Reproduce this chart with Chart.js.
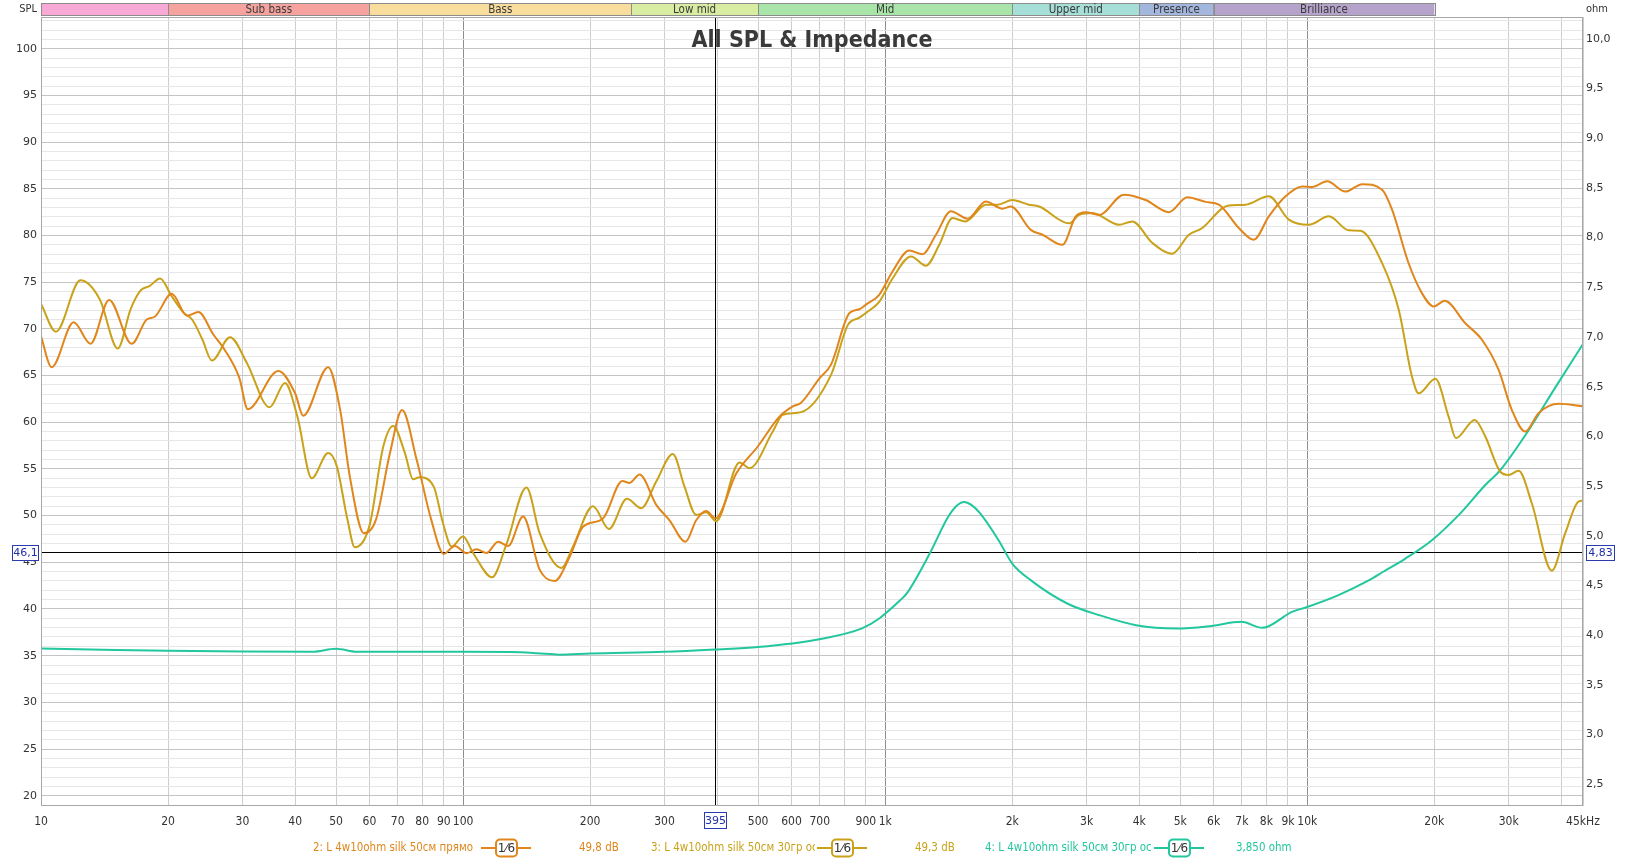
<!DOCTYPE html>
<html><head><meta charset="utf-8">
<script src="https://cdn.jsdelivr.net/npm/chart.js@4.4.1/dist/chart.umd.min.js"></script>
<style>html,body{margin:0;padding:0;background:#fff;overflow:hidden}canvas{display:block}</style>
</head><body>
<canvas id="c" width="1635" height="859"></canvas>
<script>
// ---------- DATA ----------
const spl2Freq = [10,10.6,11.95,13.1,14.5,16.4,17.8,18.6,20.4,22.2,23.6,25.6,27.2,29.5,30.9,36.5,40,41.8,47.9,51.1,53.9,58.2,62.2,67.1,71.7,77.6,84,90,95.6,101.9,107.6,113.6,121,127.9,138.7,151.9,164.8,178.9,192.3,214.5,238.4,248,261.9,286.8,308.4,336.5,356.6,376.6,396.3,443.7,499,561.6,604,632,698.6,744.6,822.8,868.6,900.5,968,1041,1140,1226,1319,1431,1567,1732,1896,1984,2213,2359,2630,2828,2987,3211,3680,4141,4702,5196,5742,6175,6884,7470,8108,8880,9723,10270,11140,12310,13490,15040,15880,17390,18700,19930,21160,23680,25930,28400,30530,32840,35310,39380,45000];
const spl2Db = [69.2,65.9,70.7,68.4,73.1,68.4,71.0,71.3,73.75,71.4,71.8,69.4,67.8,64.75,61.4,65.5,63.1,60.7,65.9,61.4,54.2,48.1,49.6,56.7,61.3,56.0,49.6,45.9,46.75,45.97,46.4,46.0,47.2,46.75,49.9,44.2,43.0,45.6,48.8,49.7,53.7,53.5,54.4,51.15,49.5,47.2,49.5,50.5,49.7,54.5,57.4,60.6,61.7,62.1,64.7,66.2,71.7,72.1,72.6,73.65,76.15,78.4,78.0,80.08,82.6,81.8,83.65,82.87,83.1,80.6,80.08,79.0,82.05,82.5,82.2,84.37,83.8,82.5,84.1,83.6,83.3,80.8,79.55,82.05,84.2,85.26,85.2,85.8,84.7,85.5,84.9,82.76,77.0,73.8,72.4,73.0,70.6,68.83,65.6,61.3,59.0,60.97,61.97,61.7];

const spl3Freq = [10,10.85,12.4,13.8,15.2,16.3,17.2,18.1,19.15,20.4,21.8,22.8,24.1,25.4,28.05,30.7,34.8,37.85,40.5,43.8,47.9,50.2,53.2,55.4,60,64.7,68.3,72.8,76.1,78.8,85.2,89.6,93.9,100,105.6,117.1,126.6,141.3,151.9,171,182.2,203.1,221.6,244.4,264.3,286.8,314,334.6,356.6,376.6,397.7,451.8,477,541.6,571.9,632,744.6,815.4,868.6,900,968,1041,1151,1249,1343,1444,1548,1732,1845,2002,2190,2316,2727,2880,3097,3581,3850,4295,4787,5243,5639,6289,6521,7140,8108,9043,10080,11250,12540,13360,15040,16470,17700,18360,20110,21620,22500,24920,26410,28660,29990,31670,34050,37960,40830,43900,45000];
const spl3Db = [72.7,69.7,75.2,73.1,67.9,72.1,74.1,74.6,75.4,73.5,71.7,71.0,68.9,66.6,69.1,66.4,61.6,64.2,60.6,54.0,56.7,55.3,49.6,46.6,48.9,57.4,59.6,56.7,53.9,54.1,53.1,49.2,46.7,47.75,46.0,43.4,46.9,53.0,48.1,44.4,46.7,51.0,48.57,51.8,50.8,53.65,56.6,53.1,50.08,50.36,49.4,55.7,55.08,59.0,60.8,61.08,65.1,70.4,71.2,71.7,72.9,75.4,77.76,76.76,79.0,81.87,81.5,83.3,83.3,83.8,83.3,83.1,81.3,82.2,82.4,81.15,81.5,79.2,78.05,80.08,80.8,82.9,83.2,83.3,84.2,81.7,81.15,82.05,80.55,80.5,77.04,72.04,64.9,63.1,64.65,60.6,58.3,60.25,58.47,54.7,54.36,54.8,51.3,44.1,48.1,51.5,51.6];

const impFreq = [10,15,20,30,44,50,56,100,130,150,169,200,300,395,500,693,881,968,1085,1125,1275,1410,1475,1538,1600,1679,1856,2000,2211,2700,3218,3930,4923,5862,6988,7820,9200,9917,11820,13980,15170,17080,19740,22830,26410,28660,33430,38670,45000];
const impOhm = [3.866,3.85,3.842,3.835,3.832,3.862,3.832,3.832,3.83,3.818,3.803,3.815,3.832,3.855,3.88,3.956,4.067,4.167,4.35,4.419,4.821,5.19,5.30,5.34,5.31,5.224,4.955,4.72,4.553,4.318,4.2,4.1,4.067,4.09,4.133,4.073,4.234,4.278,4.40,4.55,4.64,4.77,4.955,5.207,5.51,5.66,6.06,6.49,6.93];

const xTickValues = [10,20,30,40,50,60,70,80,90,100,200,300,400,500,600,700,800,900,1000,2000,3000,4000,5000,6000,7000,8000,9000,10000,20000,30000,40000,45000];
const xTickLabels = ['10','20','30','40','50','60','70','80','90','100','200','300','','500','600','700','','900','1k','2k','3k','4k','5k','6k','7k','8k','9k','10k','20k','30k','','45kHz'];
const splTickValues = [20,25,30,35,40,45,50,55,60,65,70,75,80,85,90,95,100];
const ohmTickValues = [2.5,3,3.5,4,4.5,5,5.5,6,6.5,7,7.5,8,8.5,9,9.5,10];

const bandNames = ['', 'Sub bass', 'Bass', 'Low mid', 'Mid', 'Upper mid', 'Presence', 'Brilliance'];
const bandEdges = [10, 20, 60, 250, 500, 2000, 4000, 6000, 20000];
const bandColors = ['#f9a9d6', '#f6a39f', '#f8dd9c', '#d8eca2', '#a9e4a9', '#a6ded8', '#a3b7de', '#b5a3cb'];

const seriesNames = ['2: L 4w10ohm silk 50см прямо', '3: L 4w10ohm silk 50см 30гр ось', '4: L 4w10ohm silk 50см 30гр ось'];
const seriesReadouts = ['49,8 dB', '49,3 dB', '3,850 ohm'];
const seriesColors = ['#e0861c', '#c9a21a', '#22c79d'];

const cursorFreq = 395, cursorDb = 46.1, cursorOhmLabel = '4,83', cursorDbLabel = '46,1', cursorFreqLabel = '395';
const titleText = 'All SPL & Impedance';

// ---------- CHART ----------
const COND = '"DejaVu Sans Condensed", "Liberation Sans Narrow", "DejaVu Sans", sans-serif';
const SANS = '"DejaVu Sans", Verdana, sans-serif';
const pts = (fs, vs) => fs.map((f, i) => ({x: f, y: vs[i]}));

const decor = {
  id: 'decor',
  beforeDatasetsDraw(chart) {
    const {ctx, chartArea: a, scales: {x, y}} = chart;
    ctx.save();
    ctx.strokeStyle = '#000'; ctx.lineWidth = 1;
    const cx = Math.round(x.getPixelForValue(cursorFreq)) + 0.5;
    const cy = Math.round(y.getPixelForValue(cursorDb)) + 0.5;
    ctx.beginPath();
    ctx.moveTo(cx, a.top); ctx.lineTo(cx, a.bottom);
    ctx.moveTo(a.left, cy); ctx.lineTo(a.right, cy);
    ctx.stroke();
    ctx.restore();
  },
  afterDraw(chart) {
    const {ctx, chartArea: a, scales: {x, y}} = chart;
    ctx.save();
    // frame
    ctx.strokeStyle = '#a8a8a8'; ctx.lineWidth = 1;
    ctx.strokeRect(Math.round(a.left) + 0.5, Math.round(a.top) + 0.5, Math.round(a.right - a.left) - 1, Math.round(a.bottom - a.top) - 1);
    // title
    ctx.fillStyle = '#3a3a3a';
    ctx.font = 'bold 23px ' + COND;
    ctx.textAlign = 'center'; ctx.textBaseline = 'middle';
    ctx.fillText(titleText, (a.left + a.right) / 2, 41);
    // band bar
    const bt = 3, bh = 12;
    for (let i = 0; i < bandNames.length; i++) {
      const x0 = x.getPixelForValue(bandEdges[i]), x1 = x.getPixelForValue(bandEdges[i + 1]);
      ctx.fillStyle = bandColors[i];
      ctx.fillRect(x0, bt, x1 - x0, bh);
      ctx.strokeStyle = '#8c8c8c';
      ctx.strokeRect(Math.round(x0) + 0.5, bt + 0.5, Math.round(x1 - x0), bh);
      if (bandNames[i]) {
        ctx.fillStyle = '#3a3a3a';
        ctx.font = '11.5px ' + COND;
        ctx.fillText(bandNames[i], (x0 + x1) / 2, bt + bh / 2 + 1);
      }
    }
    ctx.fillStyle = '#333';
    ctx.font = '11px ' + COND;
    ctx.textAlign = 'right';
    ctx.fillText('SPL', 37, 9);
    ctx.textAlign = 'left';
    ctx.fillText('ohm', 1586, 9);
    // cursor boxes
    const cx = x.getPixelForValue(cursorFreq), cy = Math.round(y.getPixelForValue(cursorDb)) + 0.5;
    function box(t, mx, my, w, h) {
      ctx.fillStyle = '#fff';
      ctx.fillRect(mx - w / 2, my - h / 2, w, h);
      ctx.strokeStyle = '#2b3bb0'; ctx.lineWidth = 1;
      ctx.strokeRect(Math.round(mx - w / 2) + 0.5, Math.round(my - h / 2) + 0.5, w, h);
      ctx.fillStyle = '#1f2fa8';
      ctx.font = '11px ' + SANS;
      ctx.textAlign = 'center'; ctx.textBaseline = 'middle';
      ctx.fillText(t, mx + 0.5, my + 1);
    }
    box(cursorDbLabel, 25, cy, 26, 15);
    box(cursorOhmLabel, 1600, cy, 28, 15);
    box(cursorFreqLabel, cx, 820, 22, 16);
    // legend: fit font so first label spans its original width
    ctx.font = '12px ' + COND;
    const legSize = Math.min(12, 12 * 160 / ctx.measureText(seriesNames[0]).width);
    const LF = legSize.toFixed(2) + 'px ' + COND;
    const ly = 848;
    const items = [
      {tx: 313, sx: 481, vx: 579},
      {tx: 651, sx: 817, vx: 915},
      {tx: 985, sx: 1154, vx: 1236}
    ];
    items.forEach((it, i) => {
      const col = seriesColors[i];
      ctx.font = LF;
      ctx.textAlign = 'left'; ctx.textBaseline = 'middle';
      ctx.save();
      ctx.beginPath(); ctx.rect(it.tx, ly - 10, it.sx - it.tx - 2, 20); ctx.clip();
      ctx.fillStyle = col;
      ctx.fillText(seriesNames[i], it.tx, ly);
      ctx.restore();
      // symbol
      ctx.strokeStyle = col; ctx.lineWidth = 2;
      ctx.beginPath();
      ctx.moveTo(it.sx, ly); ctx.lineTo(it.sx + 15, ly);
      ctx.moveTo(it.sx + 36, ly); ctx.lineTo(it.sx + 50, ly);
      ctx.stroke();
      ctx.beginPath();
      if (ctx.roundRect) ctx.roundRect(it.sx + 15, ly - 8.5, 21, 17, 4); else ctx.rect(it.sx + 15, ly - 8.5, 21, 17);
      ctx.fillStyle = '#fff'; ctx.fill(); ctx.stroke();
      ctx.fillStyle = '#333';
      ctx.font = '12px ' + SANS;
      ctx.textAlign = 'center';
      ctx.fillText('1\u20446', it.sx + 25.5, ly + 0.5);
      ctx.fillStyle = col;
      ctx.font = LF;
      ctx.textAlign = 'left';
      ctx.fillText(seriesReadouts[i], it.vx, ly);
    });
    ctx.restore();
  }
};

new Chart(document.getElementById('c'), {
  type: 'line',
  data: {
    datasets: [
      {label: seriesNames[0], data: pts(spl2Freq, spl2Db), borderColor: seriesColors[0], borderWidth: 2, pointRadius: 0, cubicInterpolationMode: 'monotone', yAxisID: 'y'},
      {label: seriesNames[1], data: pts(spl3Freq, spl3Db), borderColor: seriesColors[1], borderWidth: 2, pointRadius: 0, cubicInterpolationMode: 'monotone', yAxisID: 'y'},
      {label: seriesNames[2], data: pts(impFreq, impOhm), borderColor: seriesColors[2], borderWidth: 2, pointRadius: 0, cubicInterpolationMode: 'monotone', yAxisID: 'y2'}
    ]
  },
  options: {
    responsive: false, animation: false, devicePixelRatio: 1,
    layout: {padding: {top: 17, left: 0, right: 0, bottom: 0}},
    plugins: {legend: {display: false}, tooltip: {enabled: false}, title: {display: false}},
    scales: {
      x: {
        type: 'logarithmic', min: 10, max: 45000,
        afterBuildTicks: s => { s.ticks = xTickValues.map(v => ({value: v})); },
        afterFit: s => { s.height = 53; },
        ticks: {autoSkip: false, maxRotation: 0, minRotation: 0, padding: 9, color: '#333', font: {family: COND, size: 12},
          callback: (v, i) => xTickLabels[i]},
        grid: {drawTicks: false, lineWidth: 1,
          color: c => { const v = c.tick && c.tick.value; return (v === 100 || v === 1000 || v === 10000) ? '#8e8e8e' : '#cdcdcd'; }},
        border: {display: false}
      },
      y: {
        type: 'linear', position: 'left', min: 18.9, max: 103.4,
        afterBuildTicks: s => { const t = []; for (let v = 19; v <= 103; v++) t.push({value: v}); s.ticks = t; },
        afterFit: s => { s.width = 41; },
        ticks: {autoSkip: false, padding: 4, color: '#333', font: {family: SANS, size: 11},
          callback: v => splTickValues.includes(v) ? String(v) : ''},
        grid: {drawTicks: false, lineWidth: 1,
          color: c => { const v = c.tick && c.tick.value; return (v % 5 === 0) ? '#c4c4c4' : '#e6e6e6'; }},
        border: {display: false}
      },
      y2: {
        type: 'linear', position: 'right', min: 2.28, max: 10.22,
        afterBuildTicks: s => { s.ticks = ohmTickValues.map(v => ({value: v})); },
        afterFit: s => { s.width = 52; },
        ticks: {autoSkip: false, padding: 3, color: '#333', font: {family: SANS, size: 11},
          callback: v => v.toFixed(1).replace('.', ',')},
        grid: {display: false, drawTicks: false},
        border: {display: false}
      }
    }
  },
  plugins: [decor]
});
</script>
</body></html>
